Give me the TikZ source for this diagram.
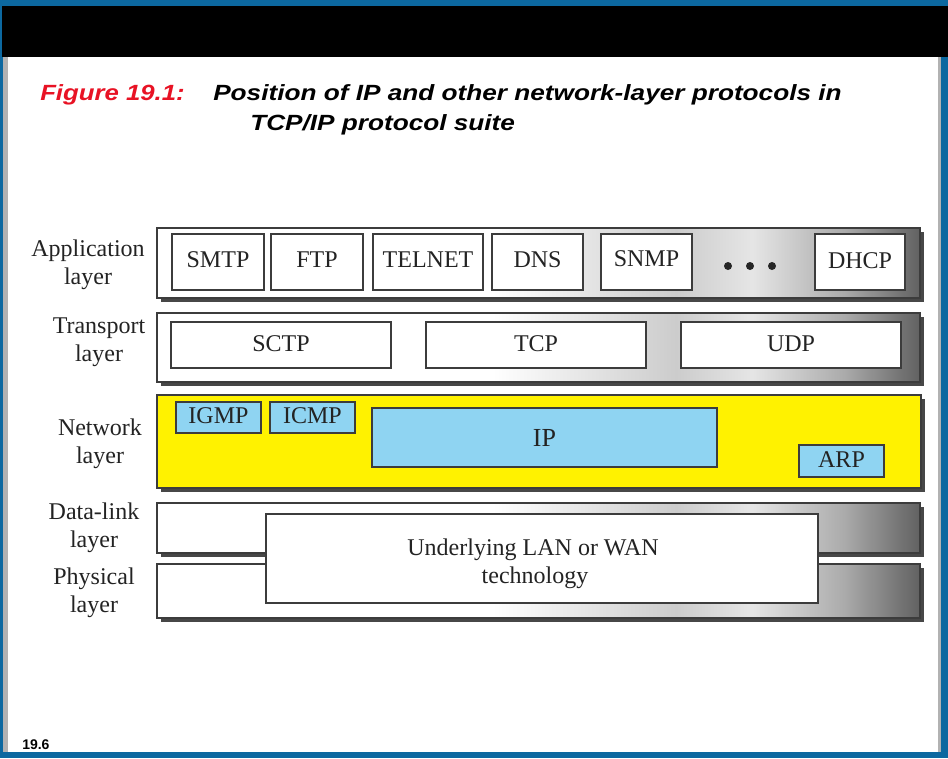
\documentclass[tikz,border=0pt]{standalone}
\usepackage{fontspec}
\setmainfont{Liberation Serif}
\setsansfont{Liberation Sans}
\usetikzlibrary{fit,shadows}
\definecolor{slideblue}{RGB}{12,104,160}
\definecolor{figred}{RGB}{232,18,36}
\definecolor{netyellow}{RGB}{255,242,0}
\definecolor{protoblue}{RGB}{143,212,242}
\definecolor{edge}{RGB}{60,60,60}
\definecolor{txt}{RGB}{35,35,35}
\pgfdeclarehorizontalshading{layershade}{100bp}{color(0bp)=(white); color(25bp)=(white); color(47bp)=(white); color(59bp)=(black!20); color(64bp)=(black!10); color(70bp)=(black!33); color(75bp)=(black!62); color(100bp)=(black!62)}
\tikzset{
  layer/.style={draw=edge, line width=0.8pt, inner sep=0pt,
    drop shadow={shadow xshift=3pt, shadow yshift=-3pt, fill=black!72, opacity=1}},
  shaded/.style={layer, shading=layershade},
  pbox/.style={draw=edge, line width=0.8pt, inner sep=0pt, fill=white},
  bluebox/.style={pbox, fill=protoblue},
  ptext/.style={inner sep=0pt, anchor=base, text=txt},
  lbl/.style={align=center, text=txt},
  titlefont/.style={inner sep=0pt, anchor=base west, font=\sffamily\bfseries\itshape\fontsize{16.5}{20}\selectfont},
  dot/.style={circle, fill=black!85, inner sep=0pt, minimum size=6pt}
}
\begin{document}
\begin{tikzpicture}[x=0.75pt, y=-0.75pt, font=\fontsize{18}{21}\selectfont]
\useasboundingbox (0,0) rectangle (948,758);
% slide frame
\fill[slideblue] (0,0) rectangle (948,758);
\fill[black] (2,6) rectangle (948,57);
\fill[black!30] (3,57) rectangle (941,752);
\fill[white] (8,57) rectangle (938,752);
% title
\node[titlefont, text=figred] (fig) at (40,100) {\scalebox{1.17}[1]{Figure 19.1:}};
\node[titlefont] (t1) at (213,100) {\scalebox{1.19}[1]{Position of IP and other network-layer protocols in}};
\node[titlefont] (t2) at (250,130) {\scalebox{1.19}[1]{TCP/IP protocol suite}};
% layers
\node[shaded, fit={(157,228) (920,298)}] (app) {};
\node[shaded, fit={(157,313) (920,382)}] (trans) {};
\node[layer, fill=netyellow, fit={(157,395) (921,488)}] (net) {};
\node[shaded, fit={(157,503) (920,553)}] (dl) {};
\node[shaded, fit={(157,564) (920,618)}] (phy) {};
% application protocols
\node[pbox, fit={(172,234) (264,290)}] (smtp) {};
\node[ptext] (smtpt) at ([yshift=-4pt]smtp.center) {SMTP};
\node[pbox, fit={(271,234) (363,290)}] (ftp) {};
\node[ptext] (ftpt) at ([yshift=-4pt]ftp.center) {FTP};
\node[pbox, fit={(373,234) (483,290)}] (telnet) {};
\node[ptext] (telnett) at ([yshift=-4pt]telnet.center) {TELNET};
\node[pbox, fit={(492,234) (583,290)}] (dns) {};
\node[ptext] (dnst) at ([yshift=-4pt]dns.center) {DNS};
\node[pbox, fit={(601,234) (692,290)}] (snmp) {};
\node[ptext] (snmpt) at ([yshift=-3pt]snmp.center) {SNMP};
\node[pbox, fit={(815,234) (905,290)}] (dhcp) {};
\node[ptext] (dhcpt) at ([yshift=-5pt]dhcp.center) {DHCP};
\node[dot] (d1) at (728,266) {};
\node[dot] (d2) at (750,266) {};
\node[dot] (d3) at (772,266) {};
% transport protocols
\node[pbox, fit={(171,322) (391,368)}] (sctp) {};
\node[ptext] (sctpt) at ([yshift=-5pt]sctp.center) {SCTP};
\node[pbox, fit={(426,322) (646,368)}] (tcp) {};
\node[ptext] (tcpt) at ([yshift=-5pt]tcp.center) {TCP};
\node[pbox, fit={(681,322) (901,368)}] (udp) {};
\node[ptext] (udpt) at ([yshift=-5pt]udp.center) {UDP};
% network protocols
\node[bluebox, fit={(176,402) (261,433)}] (igmp) {};
\node[ptext] (igmpt) at ([yshift=-4.5pt]igmp.center) {IGMP};
\node[bluebox, fit={(270,402) (355,433)}] (icmp) {};
\node[ptext] (icmpt) at ([yshift=-4.5pt]icmp.center) {ICMP};
\node[bluebox, fit={(372,408) (717,467)}] (ip) {};
\node[ptext, font=\fontsize{19.5}{22}\selectfont] (iptext) at ([xshift=0pt,yshift=-7pt]ip.center) {IP};
\node[bluebox, fit={(799,445) (884,477)}] (arp) {};
\node[ptext] (arpt) at ([yshift=-4.5pt]arp.center) {ARP};
% underlying
\node[pbox, fit={(266,514) (818,603)}] (lan) {};
\node[ptext] (lan1) at (533,555) {Underlying LAN or WAN};
\node[ptext] (lan2) at (535,583) {technology};
% layer labels
\node[lbl] (lapp) at (88,265) {Application\\layer};
\node[lbl] (ltr) at (99,342) {Transport\\layer};
\node[lbl] (lnet) at (100,444) {Network\\layer};
\node[lbl] (ldl) at (94,528) {Data-link\\layer};
\node[lbl] (lphy) at (94,593) {Physical\\layer};
% slide number
\node[inner sep=0pt, anchor=base west, font=\sffamily\bfseries\fontsize{10.5}{12}\selectfont] (num) at (22,749) {19.6};
\end{tikzpicture}
\end{document}
